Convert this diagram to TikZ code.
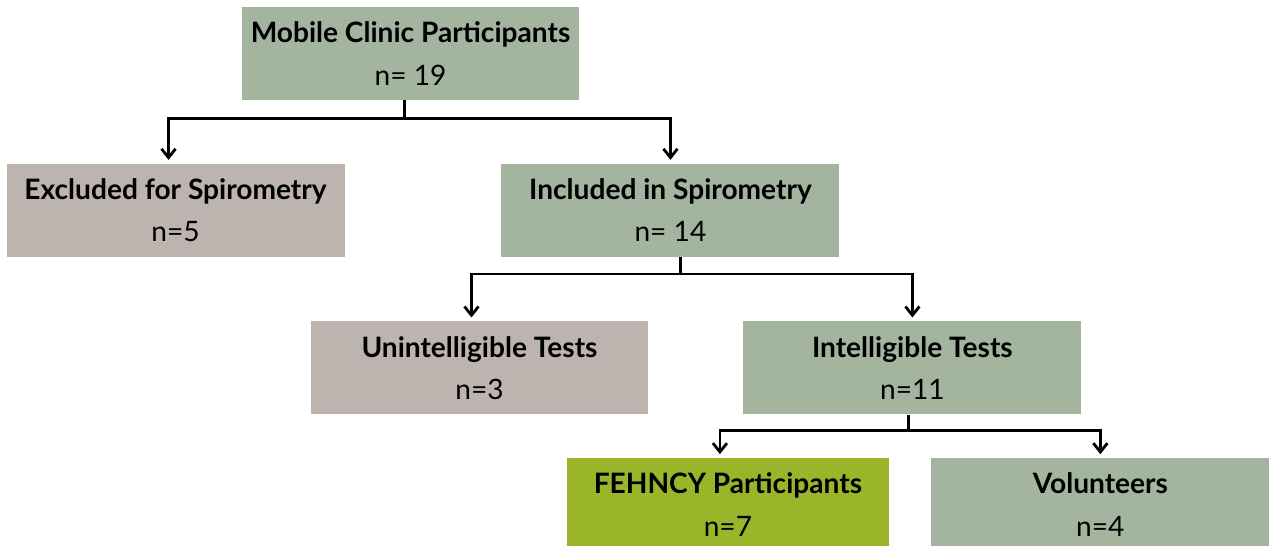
\documentclass[tikz,border=0pt]{standalone}
\usepackage{fontspec}
\setmainfont{Lato}
\usetikzlibrary{arrows.meta, positioning, calc}
\definecolor{sage}{HTML}{A3B59F}
\definecolor{taupe}{HTML}{BDB4AF}
\definecolor{olive}{HTML}{9BB52B}
\tikzstyle{arrow}=[-{Straight Barb[length=5pt,width=8pt]}, line width=1.6pt, color=black]
\tikzstyle{link}=[line width=1.6pt, color=black]

\begin{document}
\begin{tikzpicture}[x=0.02cm, y=-0.02cm,
  box/.style={rectangle, fill=sage, minimum width=6.76cm, minimum height=1.86cm,
              inner sep=0pt, align=center, font=\fontsize{16}{24}\selectfont}
]
\useasboundingbox (0,0) rectangle (1269,545);
\node[box] (clinic) at (410.5,53.5) {\textbf{Mobile Clinic Participants}\\n= 19};
\node[box, fill=taupe, below=1.26cm of clinic, xshift=-4.7cm] (excl) {\textbf{Excluded for Spirometry}\\n=5};
\node[box, below=1.26cm of clinic, xshift=5.2cm] (incl) {\textbf{Included in Spirometry}\\n= 14};
\node[box, fill=taupe, below=1.28cm of incl, xshift=-3.82cm] (unint) {\textbf{Unintelligible Tests}\\n=3};
\node[box, below=1.28cm of incl, xshift=4.84cm] (intel) {\textbf{Intelligible Tests}\\n=11};
\node[box, fill=olive, minimum width=6.44cm, below=0.86cm of intel, xshift=-3.69cm] (fehncy) {\textbf{FEHNCY Participants}\\n=7};
\node[box, below=0.86cm of intel, xshift=3.76cm] (vol) {\textbf{Volunteers}\\n=4};

% junctions
\coordinate (j1) at ($(clinic.south)+(-6,18)$);
\coordinate (j2) at ($(incl.south)+(10,17)$);
\coordinate (j3) at ($(intel.south)+(-4,16)$);

\draw[link] (j1 |- clinic.south) -- (j1);
\draw[arrow, shorten >=2pt] (j1) -| ($(excl.north)+(-7,0)$);
\draw[arrow, shorten >=2pt] (j1) -| (incl.north);
\draw[link] (j2 |- incl.south) -- (j2);
\draw[arrow, shorten >=2pt] (j2) -| ($(unint.north)+(-8,0)$);
\draw[arrow, shorten >=2pt] (j2) -| (intel.north);
\draw[link] (j3 |- intel.south) -- (j3);
\draw[arrow, shorten >=2pt] (j3) -| ($(fehncy.north)+(-8,0)$);
\draw[arrow, shorten >=2pt] (j3) -| (vol.north);
\end{tikzpicture}
\end{document}
